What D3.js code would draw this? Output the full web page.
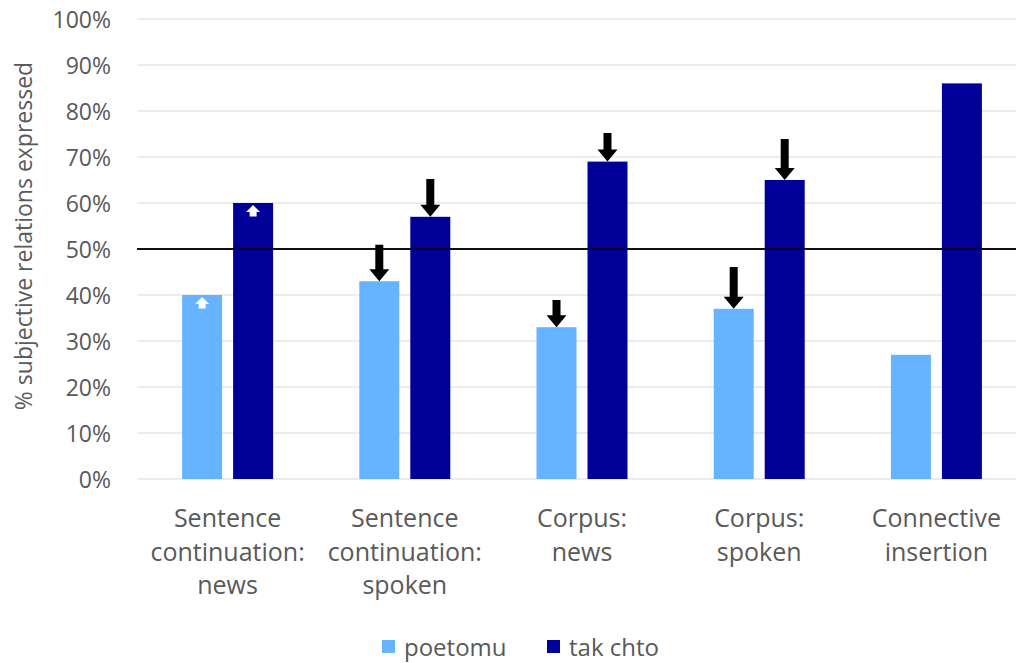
<!DOCTYPE html>
<html><head><meta charset="utf-8">
<script src="https://cdn.jsdelivr.net/npm/d3@7/dist/d3.min.js"></script>
<style>body{margin:0;background:#fff}svg{display:block}</style>
</head><body>
<svg id="c" width="1016" height="663"></svg>
<script>
const categories = [["Sentence","continuation:","news"],["Sentence","continuation:","spoken"],["Corpus:","news"],["Corpus:","spoken"],["Connective","insertion"]];
const seriesNames = ["poetomu","tak chto"];
const poetomu = [40,43,33,37,27];
const takChto = [60,57,69,65,86];
const yTicks = [0,10,20,30,40,50,60,70,80,90,100];
// arrows: [categoryIndex, seriesIndex, direction, startValue, endValue]
const arrows = [
  [0,0,"up",37.5,40],[0,1,"up",57.5,60],
  [1,0,"down",50.9,43],[1,1,"down",65.2,57],
  [2,0,"down",38.9,33],[2,1,"down",75.2,69],
  [3,0,"down",46.1,37],[3,1,"down",73.9,65]
];
const colors = ["#66b3ff","#000099"];
const svg = d3.select("#c");
const font = "'Open Sans', sans-serif";
const x = d3.scaleBand().domain(d3.range(categories.length)).range([139,1025]);
const y = d3.scaleLinear().domain([0,100]).range([479,19]);
const barW = 40, gap = 11;
// gridlines
svg.append("g").selectAll("line").data(yTicks).join("line")
  .attr("x1",137).attr("x2",1016).attr("y1",d=>y(d)).attr("y2",d=>y(d))
  .attr("stroke",d=>d===50?"#000":"#d9d9d9").attr("stroke-width",d=>d===50?1.5:1.2);
// y ticks
const ya = d3.axisLeft(y).tickValues(yTicks).tickFormat(d=>d+"%").tickSize(0).tickPadding(0);
const yg = svg.append("g").attr("transform","translate(111,0)").call(ya);
yg.select(".domain").remove();
yg.selectAll("text").attr("font-family",font).attr("font-size",23).attr("fill","#595959").attr("dy","0.36em");
// y title
svg.append("text").attr("transform","translate(32,236) rotate(-90)").attr("text-anchor","middle")
  .attr("font-family",font).attr("font-size",23).attr("fill","#595959").text("% subjective relations expressed");
// bars
const data = [];
categories.forEach((c,i)=>{data.push({i,s:0,v:poetomu[i]});data.push({i,s:1,v:takChto[i]});});
const bx = d => x(d.i)+x.bandwidth()/2 + (d.s===0 ? -gap/2-barW : gap/2);
svg.append("g").selectAll("rect").data(data).join("rect")
  .attr("x",bx).attr("width",barW).attr("y",d=>y(d.v)).attr("height",d=>y(0)-y(d.v))
  .attr("fill",d=>colors[d.s]);
// redraw 50% line over bars
svg.append("line").attr("x1",137).attr("x2",1016).attr("y1",y(50)).attr("y2",y(50)).attr("stroke","#000").attr("stroke-width",1.5);
// arrows
arrows.forEach(([ci,si,dir,v0,v1])=>{
  const cx = bx({i:ci,s:si})+barW/2;
  if(dir==="down"){
    const y0=y(v0), y1=y(v1);
    const hw=10, hh=12, sw=4;
    const p=[[cx-sw,y0],[cx+sw,y0],[cx+sw,y1-hh],[cx+hw,y1-hh],[cx,y1],[cx-hw,y1-hh],[cx-sw,y1-hh]];
    svg.append("path").attr("d","M"+p.join("L")+"Z").attr("fill","#000");
  } else {
    const yTip=y(v1)+2, yBot=y(v0)+2;
    const hw=7, hh=7, sw=3.5;
    const p=[[cx,yTip],[cx+hw,yTip+hh],[cx+sw,yTip+hh],[cx+sw,yBot],[cx-sw,yBot],[cx-sw,yTip+hh],[cx-hw,yTip+hh]];
    svg.append("path").attr("d","M"+p.join("L")+"Z").attr("fill","#fff");
  }
});
// x labels
categories.forEach((lines,i)=>{
  const t = svg.append("text").attr("text-anchor","middle").attr("font-family",font).attr("font-size",25).attr("fill","#595959");
  lines.forEach((l,k)=>t.append("tspan").attr("x",x(i)+x.bandwidth()/2).attr("y",527+k*33.5).text(l));
});
// legend
const leg = [[382,404],[547,569]];
seriesNames.forEach((n,k)=>{
  svg.append("rect").attr("x",leg[k][0]).attr("y",640).attr("width",13).attr("height",13).attr("fill",colors[k]);
  svg.append("text").attr("x",leg[k][1]).attr("y",656).attr("font-family",font).attr("font-size",24).attr("fill","#595959").text(n);
});
</script>
</body></html>
